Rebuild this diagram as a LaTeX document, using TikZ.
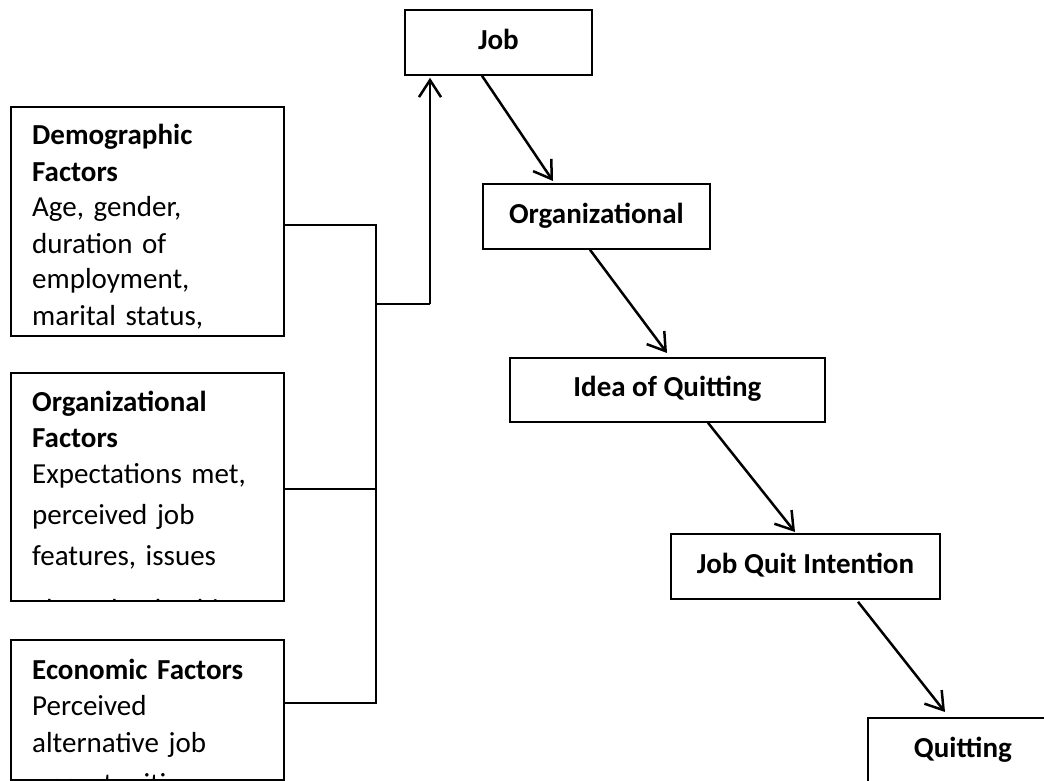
\documentclass[tikz,border=0pt]{standalone}
\usepackage{fontspec}
\setmainfont{Carlito}
\usetikzlibrary{arrows.meta,calc}
\begin{document}
\begin{tikzpicture}[x=1pt,y=-1pt,
  box/.style={draw, line width=1.8pt, inner sep=0pt, anchor=north west},
  ttl/.style={font=\fontsize{29}{32}\selectfont\bfseries, text height=19pt, text depth=5pt},
  ltext/.style={anchor=base west, inner sep=0pt, text width=265pt, align=left, font=\fontsize{29}{36}\selectfont},
  link/.style={line width=2.8pt},
  arr/.style={line width=2.5pt, -{Straight Barb[length=17pt,width=22pt,line width=2.5pt]}},
]
\useasboundingbox (0,0) rectangle (1044,781);
\clip (0,0) rectangle (1044,781);
% right chain
\node[box, minimum width=187, minimum height=65, ttl] (job) at (404,9) {Job};
\node[box, minimum width=227, minimum height=65, ttl] (org) at (482,183) {Organizational};
\node[box, minimum width=315, minimum height=64, ttl] (idea) at (509,357) {Idea of Quitting};
\node[box, minimum width=269, minimum height=65, ttl] (jqi) at (670,533) {Job Quit Intention};
\node[box, minimum width=190, minimum height=66, ttl] (quit) at (867,717) {Quitting};
% left boxes
\node[box, minimum width=273, minimum height=229] (demo) at (10,106) {};
\node[box, minimum width=273, minimum height=228] (orgf) at (10,372) {};
\node[box, minimum width=273, minimum height=140] (econ) at (10,639) {};
\begin{scope}
  \clip (demo.north west) rectangle (demo.south east);
  \node[ltext] (demotext) at (32,145) {\textbf{Demographic}\\\textbf{Factors}\\Age, gender,\\duration of\\employment,\\marital status,};
\end{scope}
\begin{scope}
  \clip (orgf.north west) rectangle (orgf.south east);
  \node[ltext] (orgftext) at (32,411) {\textbf{Organizational}\\[0pt]\textbf{Factors}\\Expectations met,\\[5pt]perceived job\\[5pt]features, issues\\[18pt]about leadership};
\end{scope}
\begin{scope}
  \clip (econ.north west) rectangle (econ.south east);
  \node[ltext] (econtext) at (32,679) {\textbf{Economic Factors}\\Perceived\\[1pt]alternative job\\[5pt]opportunities};
\end{scope}
% bracket connectors
\coordinate (bt) at (376,225);
\coordinate (bb) at (376,703);
\coordinate (br) at (376,304);
\coordinate (bk) at (430,304);
\draw[link] (demo.east |- bt) -- (bt) -- (bb) -- (econ.east |- bb);
\draw[link] ([yshift=-2]orgf.east) -- ([yshift=-2]orgf.east -| bt);
\draw[link] (br) -- (bk);
\draw[arr, shorten >=2pt] (bk) -- (bk |- job.south);
% chain arrows
\draw[arr] ([xshift=78]job.south west) -- ([xshift=71,yshift=2]org.north west);
\draw[arr] ([xshift=108]org.south west) -- ([xshift=158,yshift=4]idea.north west);
\draw[arr] ([xshift=199]idea.south west) -- ([xshift=125,yshift=1]jqi.north west);
\draw[arr] ([xshift=188,yshift=-2]jqi.south west) -- ([xshift=78,yshift=5]quit.north west);
\end{tikzpicture}
\end{document}
